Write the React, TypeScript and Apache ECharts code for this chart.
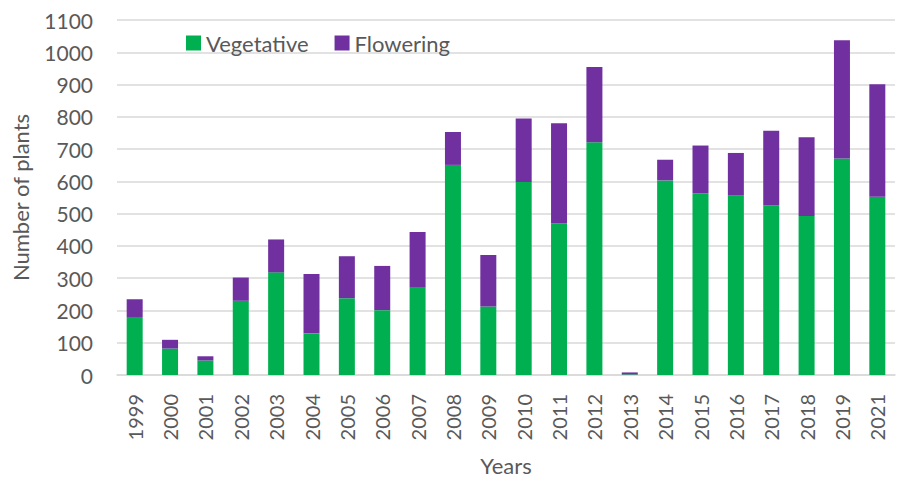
import React, { useEffect, useRef } from "react";
import * as echarts from "echarts";

const years = ["1999","2000","2001","2002","2003","2004","2005","2006","2007","2008","2009","2010","2011","2012","2013","2014","2015","2016","2017","2018","2019","2021"];
const vegetative = [180, 82, 45, 230, 318, 129, 238, 201, 270, 651, 212, 598, 470, 721, 2, 603, 562, 556, 525, 493, 671, 552];
const flowering = [55, 27, 13, 72, 102, 184, 130, 137, 173, 102, 160, 197, 310, 233, 6, 64, 149, 132, 232, 244, 366, 349];

const FONT = "Lato, 'Open Sans', sans-serif";
const TXT = "#595959";

export default function App() {
  const ref = useRef<HTMLDivElement>(null);
  useEffect(() => {
    const chart = echarts.init(ref.current!, null, { renderer: "svg" });
    chart.setOption({
      animation: false,
      backgroundColor: "#ffffff",
      textStyle: { fontFamily: FONT },
      legend: {
        left: 181,
        top: 27,
        itemWidth: 15,
        itemHeight: 15,
        itemGap: 26,
        icon: "rect",
        textStyle: { fontSize: 22, color: TXT, fontFamily: FONT },
        data: ["Vegetative", "Flowering"],
      },
      grid: { left: 117, right: 3, top: 20, bottom: 101, containLabel: false },
      xAxis: {
        type: "category",
        data: years,
        name: "Years",
        nameLocation: "middle",
        nameGap: 79,
        nameTextStyle: { fontSize: 22, color: TXT, fontFamily: FONT },
        axisLine: { lineStyle: { color: "#d9d9d9", width: 1.5 } },
        axisTick: { show: false },
        axisLabel: { rotate: 90, fontSize: 20, color: TXT, margin: 19, fontFamily: FONT },
      },
      yAxis: {
        type: "value",
        min: 0,
        max: 1100,
        interval: 100,
        name: "Number of plants",
        nameLocation: "middle",
        nameGap: 86,
        nameRotate: 90,
        nameTextStyle: { fontSize: 22, color: TXT, fontFamily: FONT },
        axisLine: { show: false },
        axisTick: { show: false },
        axisLabel: {
          fontSize: 21,
          color: TXT,
          margin: 24,
          fontFamily: FONT,
          formatter: (v: number) => String(v),
        },
        splitLine: { lineStyle: { color: "#d9d9d9", width: 1.5 } },
      },
      series: [
        {
          name: "Vegetative",
          type: "bar",
          stack: "total",
          barWidth: 16,
          itemStyle: { color: "#00b050" },
          data: vegetative,
        },
        {
          name: "Flowering",
          type: "bar",
          stack: "total",
          barWidth: 16,
          itemStyle: { color: "#7030a0" },
          data: flowering,
        },
      ],
    });
    return () => chart.dispose();
  }, []);
  return <div ref={ref} style={{ width: 898, height: 481, position: "absolute", left: 0, top: 0 }} />;
}
